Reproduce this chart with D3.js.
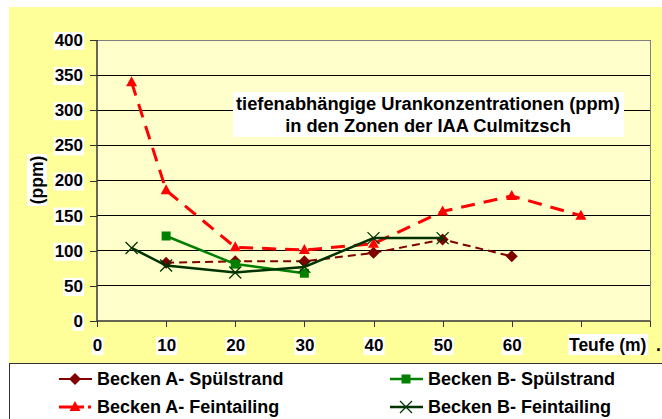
<!DOCTYPE html>
<html>
<head>
<meta charset="utf-8">
<script src="https://cdn.jsdelivr.net/npm/d3@7"></script>
<style>
  body { margin: 0; background: #fff; }
  text { font-family: "Liberation Sans", Arial, sans-serif; font-weight: bold; fill: #000; }
</style>
</head>
<body>
<div id="chart"></div>
<script>
// data
const beckenASpuel = [[10, 83], [20, 85], [30, 85], [40, 97], [50, 116], [60, 92]]
const beckenAFein = [[5, 340], [10, 186], [20, 105], [30, 101], [40, 110], [50, 156], [60, 178], [70, 150]]
const beckenBSpuel = [[10, 121], [20, 81], [30, 68]]
const beckenBFein = [[5, 104], [10, 79], [20, 69], [30, 77], [40, 118], [50, 118]]
const xTicks = [0, 10, 20, 30, 40, 50, 60, 70, 80]
const xTickLabels = ["0", "10", "20", "30", "40", "50", "60", "", ""]
const yTicks = [0, 50, 100, 150, 200, 250, 300, 350, 400]

const series = [
    { name: "Becken A- Spülstrand", data: beckenASpuel, color: "#800000", width: 2, dash: "8,5", marker: "diamond" },
    { name: "Becken B- Spülstrand", data: beckenBSpuel, color: "#008000", width: 2.5, dash: null, marker: "square" },
    { name: "Becken A- Feintailing", data: beckenAFein, color: "#ff0000", width: 3, dash: "14,9", marker: "triangle" },
    { name: "Becken B- Feintailing", data: beckenBFein, color: "#003300", width: 2.5, dash: null, marker: "cross" }
]

const W = 662, H = 419
const plot = { left: 97, top: 40, right: 650, bottom: 321 }

const svg = d3.select("#chart").append("svg")
    .attr("width", W)
    .attr("height", H)

svg.append("rect").attr("width", W).attr("height", H).attr("fill", "#fff")

// outer chart area
svg.append("rect")
    .attr("x", 9).attr("y", 7)
    .attr("width", W - 9).attr("height", 356)
    .attr("fill", "#ffff99")

// plot area
svg.append("rect")
    .attr("x", plot.left).attr("y", plot.top)
    .attr("width", plot.right - plot.left).attr("height", plot.bottom - plot.top)
    .attr("fill", "#ffffcc")

const x = d3.scaleLinear().domain([0, 80]).range([plot.left, plot.right])
const y = d3.scaleLinear().domain([0, 400]).range([plot.bottom, plot.top])

// gridlines
svg.append("g")
    .selectAll("line")
    .data(yTicks.slice(1, -1))
    .join("line")
    .attr("x1", plot.left).attr("x2", plot.right)
    .attr("y1", d => y(d)).attr("y2", d => y(d))
    .attr("stroke", "#000")
    .attr("stroke-width", 1)
    .attr("shape-rendering", "crispEdges")

// top / right border
svg.append("path")
    .attr("d", `M${plot.left},${plot.top}H${plot.right}V${plot.bottom}`)
    .attr("fill", "none")
    .attr("stroke", "#808080")
    .attr("shape-rendering", "crispEdges")

// axes
const yAxis = svg.append("g")
    .attr("transform", `translate(${plot.left},0)`)
    .call(d3.axisLeft(y).tickValues(yTicks).tickSize(7).tickPadding(7))
const xAxis = svg.append("g")
    .attr("transform", `translate(0,${plot.bottom})`)
    .call(d3.axisBottom(x).tickValues(xTicks).tickFormat((d, i) => xTickLabels[i]).tickSize(6).tickPadding(12))

for (const ax of [yAxis, xAxis]) {
    ax.attr("font-size", 17)
    ax.select(".domain").attr("stroke", "#333").attr("stroke-width", 1.5)
    ax.selectAll(".tick line").attr("stroke", "#333").attr("shape-rendering", "crispEdges")
    ax.selectAll("text")
        .attr("font-size", 17)
        .attr("font-family", "Liberation Sans, Arial, sans-serif")
        .attr("font-weight", "bold")
        .attr("fill", "#000")
}
xAxis.select(".domain").attr("d", `M${plot.left},0H${plot.right}`)
yAxis.select(".domain").attr("d", `M0,${y(0)}V${y(400)}`)

// white boxes behind tick labels
function whiteBox(sel) {
    sel.each(function () {
        if (!this.textContent) return
        const b = this.getBBox()
        d3.select(this.parentNode).insert("rect", "text")
            .attr("x", b.x - 1).attr("y", b.y + 1)
            .attr("width", b.width + 2).attr("height", b.height - 1)
            .attr("fill", "#fff")
    })
}
whiteBox(yAxis.selectAll("text"))
whiteBox(xAxis.selectAll("text"))

// title box
const title = svg.append("g")
title.append("rect").attr("x", 233).attr("y", 92).attr("width", 391).attr("height", 45).attr("fill", "#fff")
title.append("text").attr("x", 428).attr("y", 110).attr("text-anchor", "middle").attr("font-size", 18.3)
    .text("tiefenabhängige Urankonzentrationen (ppm)")
title.append("text").attr("x", 428).attr("y", 132).attr("text-anchor", "middle").attr("font-size", 18.3)
    .text("in den Zonen der IAA Culmitzsch")

// y label
const yl = svg.append("g").attr("transform", "translate(37,180) rotate(-90)")
yl.append("rect").attr("x", -26).attr("y", -10).attr("width", 52).attr("height", 20).attr("fill", "#fff")
yl.append("text").attr("text-anchor", "middle").attr("dy", "0.35em").attr("font-size", 17.5).text("(ppm)")

// x label
svg.append("rect").attr("x", 568).attr("y", 334).attr("width", 80).attr("height", 21).attr("fill", "#fff")
svg.append("text").attr("x", 569).attr("y", 351).attr("font-size", 17.5).text("Teufe (m)")
svg.append("text").attr("x", 656).attr("y", 351).attr("font-size", 17.5).text(".")

// markers
function drawMarker(g, type, color, cx, cy) {
    if (type === "diamond") {
        g.append("path").attr("d", `M${cx},${cy - 6}L${cx + 6},${cy}L${cx},${cy + 6}L${cx - 6},${cy}Z`).attr("fill", color)
    } else if (type === "square") {
        g.append("rect").attr("x", cx - 4.5).attr("y", cy - 4.5).attr("width", 9).attr("height", 9).attr("fill", color)
    } else if (type === "triangle") {
        g.append("path").attr("d", `M${cx},${cy - 6}L${cx + 5.5},${cy + 4}L${cx - 5.5},${cy + 4}Z`).attr("fill", color)
    } else if (type === "cross") {
        g.append("path").attr("d", `M${cx - 6},${cy - 6}L${cx + 6},${cy + 6}M${cx - 6},${cy + 6}L${cx + 6},${cy - 6}`)
            .attr("stroke", color).attr("stroke-width", 1.3)
    }
}

const line = d3.line().x(d => x(d[0])).y(d => y(d[1]))
for (const s of series) {
    const g = svg.append("g")
    g.append("path")
        .attr("d", line(s.data))
        .attr("fill", "none")
        .attr("stroke", s.color)
        .attr("stroke-width", s.width)
        .attr("stroke-dasharray", s.dash)
    s.data.forEach(d => drawMarker(g, s.marker, s.color, x(d[0]), y(d[1])))
}

// legend
svg.append("rect")
    .attr("x", 9.5).attr("y", 363.5)
    .attr("width", W).attr("height", 60)
    .attr("fill", "#fff")
    .attr("stroke", "#333")

const legendPos = [[59, 379], [390, 379], [59, 407], [390, 407]]
series.forEach((s, i) => {
    const [lx, ly] = legendPos[i]
    const g = svg.append("g")
    if (s.marker === "triangle") {
        g.append("line").attr("x1", lx).attr("x2", lx + 25).attr("y1", ly).attr("y2", ly)
            .attr("stroke", s.color).attr("stroke-width", s.width)
        g.append("line").attr("x1", lx + 29).attr("x2", lx + 32).attr("y1", ly).attr("y2", ly)
            .attr("stroke", s.color).attr("stroke-width", s.width)
    } else {
        g.append("line").attr("x1", lx).attr("x2", lx + 33).attr("y1", ly).attr("y2", ly)
            .attr("stroke", s.color).attr("stroke-width", s.width)
    }
    drawMarker(g, s.marker, s.color, lx + 16, ly)
    g.append("text").attr("x", lx + 38).attr("y", ly).attr("dy", "0.35em").attr("font-size", 18).text(s.name)
})
</script>
</body>
</html>
